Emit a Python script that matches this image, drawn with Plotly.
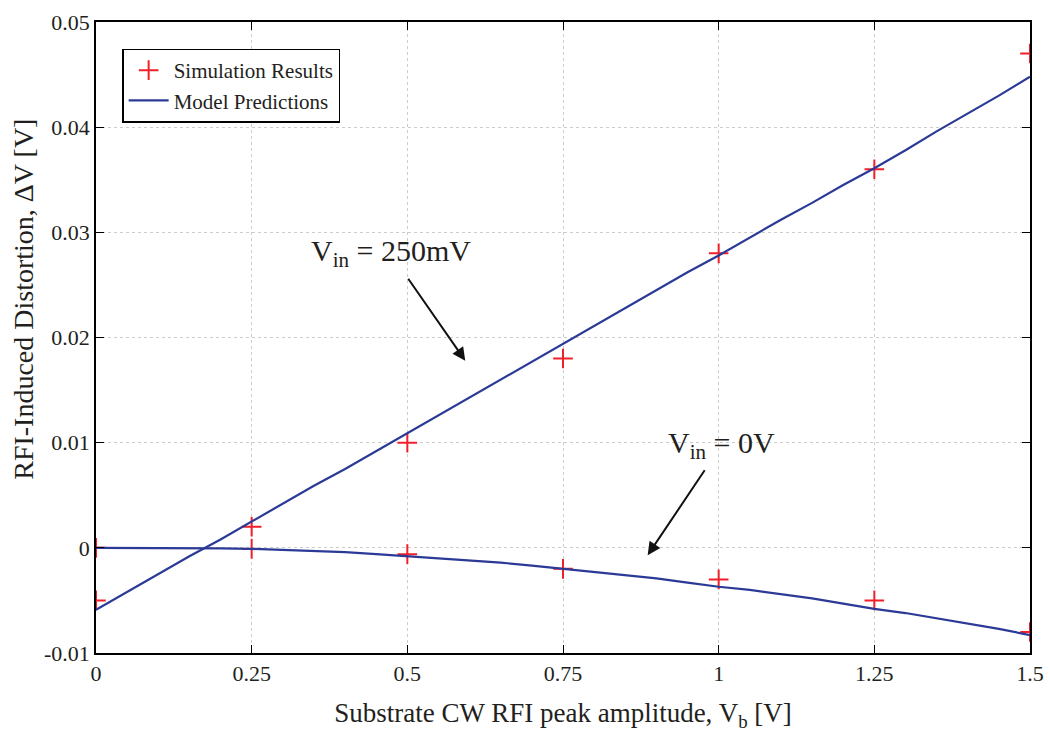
import plotly.graph_objects as go

# RFI peak amplitude sweep (V)
vb_sim = [0, 0.25, 0.5, 0.75, 1.0, 1.25, 1.5]
sim_250mv = [-0.005, 0.002, 0.010, 0.018, 0.028, 0.036, 0.047]
sim_0v = [0.0, -0.0001, -0.0006, -0.002, -0.003, -0.005, -0.008]

vb_model = [0.00, 0.05, 0.10, 0.15, 0.20, 0.25, 0.30, 0.35, 0.40, 0.45,
            0.50, 0.55, 0.60, 0.65, 0.70, 0.75, 0.80, 0.85, 0.90, 0.95,
            1.00, 1.05, 1.10, 1.15, 1.20, 1.25, 1.30, 1.35, 1.40, 1.45, 1.50]
model_250mv = [-0.0059, -0.0042, -0.0025, -0.0008, 0.0008, 0.0025, 0.0042,
               0.0059, 0.0075, 0.0092, 0.0109, 0.0126, 0.0143, 0.0160,
               0.0177, 0.0194, 0.0211, 0.0228, 0.0245, 0.0262, 0.0278,
               0.0295, 0.0312, 0.0328, 0.0345, 0.0361, 0.0378, 0.0396,
               0.0413, 0.0430, 0.0448]
model_0v = [0.0, 0.0, 0.0, 0.0, -0.00005, -0.0001, -0.0002, -0.0003, -0.0004,
            -0.0006, -0.0008, -0.0010, -0.0012, -0.0014, -0.0017, -0.0020,
            -0.0023, -0.0026, -0.0029, -0.0033, -0.0037, -0.0040, -0.0044,
            -0.0048, -0.0053, -0.0058, -0.0062, -0.0067, -0.0072, -0.0077,
            -0.0083]

x_ticks = [0, 0.25, 0.5, 0.75, 1, 1.25, 1.5]
x_tick_text = ["0", "0.25", "0.5", "0.75", "1", "1.25", "1.5"]
y_ticks = [-0.01, 0, 0.01, 0.02, 0.03, 0.04, 0.05]
y_tick_text = ["-0.01", "0", "0.01", "0.02", "0.03", "0.04", "0.05"]

LINE_C = "#2B3A96"
MARK_C = "#F0202A"
TEXT_C = "#231F20"
FONT = "Liberation Serif"

fig = go.Figure()

fig.add_trace(go.Scatter(x=vb_sim, y=sim_250mv, mode="markers",
                         name="Simulation Results",
                         marker=dict(symbol="cross-thin", size=14,
                                     line=dict(color=MARK_C, width=2))))
fig.add_trace(go.Scatter(x=vb_sim, y=sim_0v, mode="markers", showlegend=False,
                         marker=dict(symbol="cross-thin", size=14,
                                     line=dict(color=MARK_C, width=2))))
fig.add_trace(go.Scatter(x=vb_model, y=model_250mv, mode="lines",
                         name="Model Predictions",
                         line=dict(color=LINE_C, width=2.2)))
fig.add_trace(go.Scatter(x=vb_model, y=model_0v, mode="lines", showlegend=False,
                         line=dict(color=LINE_C, width=2.2)))

axis_common = dict(showline=True, linecolor="black", linewidth=1.5,
                   mirror="ticks", ticks="inside", ticklen=8,
                   tickcolor="black", showgrid=True, gridcolor="#CCCCCC",
                   griddash="dot", gridwidth=1, zeroline=False,
                   tickfont=dict(family=FONT, size=22, color=TEXT_C))

fig.update_xaxes(range=[0, 1.5], tickvals=x_ticks, ticktext=x_tick_text,
                 title=dict(text="Substrate CW RFI peak amplitude, V<sub>b</sub> [V]",
                            font=dict(family=FONT, size=27, color=TEXT_C),
                            standoff=18),
                 **axis_common)
fig.update_yaxes(range=[-0.01, 0.05], tickvals=y_ticks, ticktext=y_tick_text,
                 **axis_common)

# Vertical axis title, set as a rotated paper-anchored label
fig.add_annotation(text="RFI-Induced Distortion, ΔV [V]",
                   xref="paper", yref="paper", x=-0.078, y=0.56,
                   xanchor="center", yanchor="middle", textangle=-90,
                   showarrow=False,
                   font=dict(family=FONT, size=28, color=TEXT_C))

# Curve labels, each with a pointer arrow from the label to its curve
labels = [
    dict(text="V<sub>in</sub> = 250mV", x=0.593, y=0.0178, ax=0.473, ay=0.0280),
    dict(text="V<sub>in</sub> = 0V", x=0.886, y=-0.0007, ax=1.005, ay=0.0098),
]
for a in labels:
    fig.add_annotation(x=a["x"], y=a["y"], ax=a["ax"], ay=a["ay"],
                       xref="x", yref="y", axref="x", ayref="y",
                       text=a["text"], showarrow=True, arrowhead=2,
                       arrowsize=1.3, arrowwidth=2, arrowcolor="#111",
                       startstandoff=6,
                       font=dict(family=FONT, size=30, color=TEXT_C))

fig.update_layout(
    width=1050, height=738,
    margin=dict(l=96, r=20, t=22, b=85, autoexpand=False),
    paper_bgcolor="white", plot_bgcolor="white",
    showlegend=True,
    legend=dict(x=0.028, y=0.958, xanchor="left", yanchor="top",
                bgcolor="white", bordercolor="black", borderwidth=1.5,
                font=dict(family=FONT, size=21, color=TEXT_C),
                tracegroupgap=0, itemwidth=40),
)

fig.write_html("out.html")
